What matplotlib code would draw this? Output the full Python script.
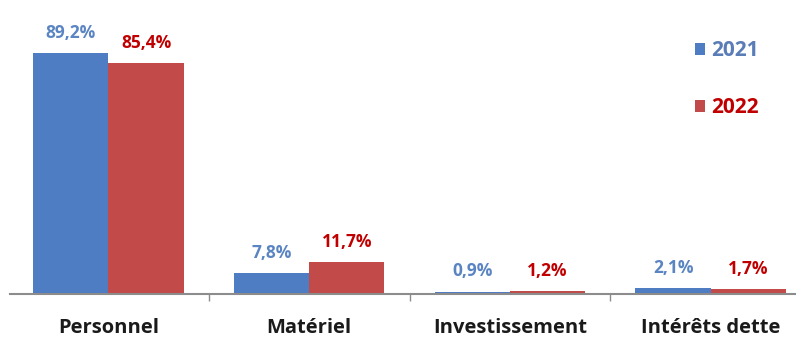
import matplotlib

matplotlib.use("Agg")
import matplotlib.pyplot as plt
import numpy as np

categories = ["Personnel", "Matériel", "Investissement", "Intérêts dette"]
years = ["2021", "2022"]
values_2021 = [89.2, 7.8, 0.9, 2.1]
values_2022 = [85.4, 11.7, 1.2, 1.7]

bar_colors = ["#4E7DC4", "#C24B49"]
label_colors = ["#5A84C2", "#C00000"]

plt.rcParams["font.family"] = ["Open Sans", "DejaVu Sans"]

fig = plt.figure(figsize=(8.0, 3.43), dpi=100)
ax = fig.add_axes([10 / 800, 1 - 294 / 343, 785 / 800, 294 / 343])

x = np.arange(len(categories))
width = 0.375
series = [values_2021, values_2022]
for i, (vals, year) in enumerate(zip(series, years)):
    offset = (i - 0.5) * width
    bars = ax.bar(x + offset, vals, width, color=bar_colors[i], label=year)
    for rect, v in zip(bars, vals):
        ax.annotate(f"{v:.1f}%".replace(".", ","),
                    (rect.get_x() + rect.get_width() / 2, rect.get_height()),
                    xytext=(0, 8), textcoords="offset points",
                    ha="center", va="bottom", fontsize=12.5, fontweight="bold",
                    color=label_colors[i])

ax.set_xlim(-0.49, 3.42)
ax.set_ylim(0, 108.9)
ax.set_xticks(x)
ax.set_xticklabels(categories, fontsize=14.5, fontweight="bold", color="#1a1a1a")
ax.tick_params(axis="x", which="major", length=0, pad=17)
ax.set_xticks([0.5, 1.5, 2.5], minor=True)
ax.tick_params(axis="x", which="minor", length=5, color="#8c8c8c", width=1)
ax.set_yticks([])
for side in ["top", "right", "left"]:
    ax.spines[side].set_visible(False)
ax.spines["bottom"].set_color("#8c8c8c")
ax.spines["bottom"].set_linewidth(1.5)

leg = ax.legend(loc="upper left", bbox_to_anchor=(695 / 800, 1 - 40 / 343),
                bbox_transform=fig.transFigure, frameon=False,
                borderpad=0, borderaxespad=0,
                handlelength=0.5, handleheight=0.5,
                handletextpad=0.3, labelspacing=1.75,
                prop={"weight": "bold", "size": 15})
for text, c in zip(leg.get_texts(), ["#5A7DB8", "#C00000"]):
    text.set_color(c)

fig.savefig("out.png", dpi=100)
plt.close(fig)
